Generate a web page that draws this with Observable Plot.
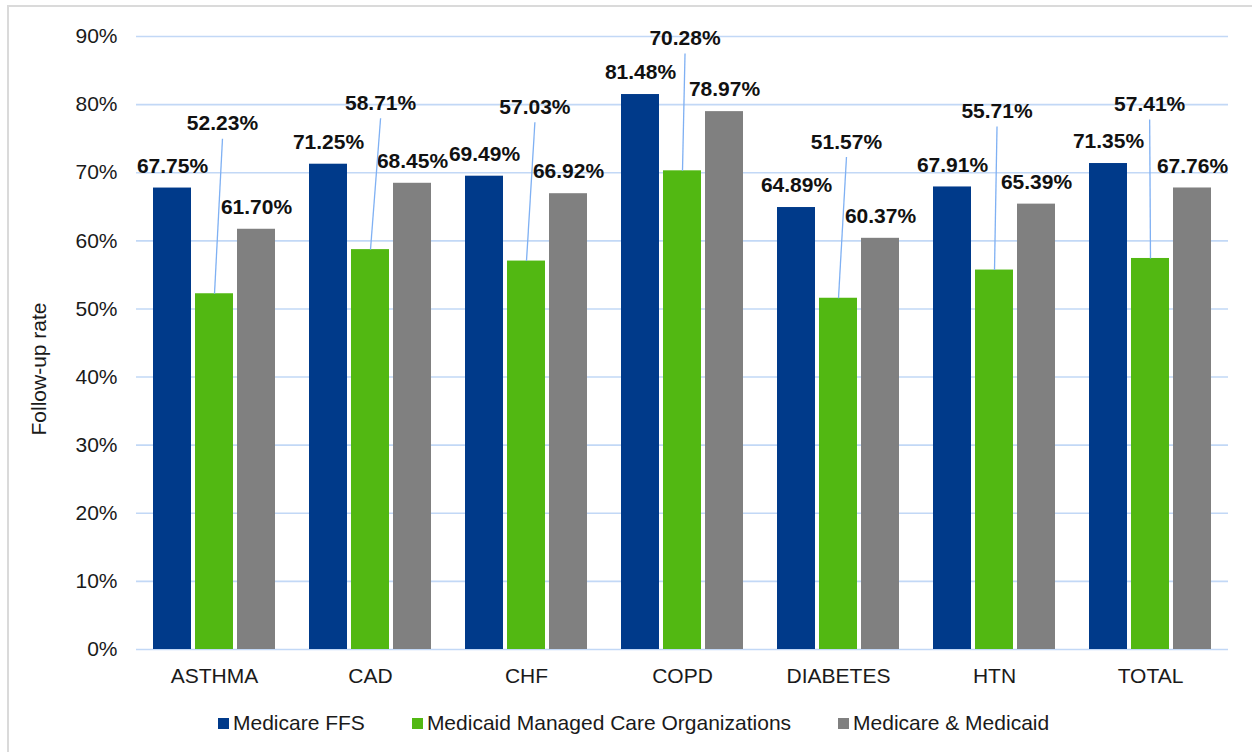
<!DOCTYPE html>
<html>
<head>
<meta charset="utf-8">
<script src="https://cdn.jsdelivr.net/npm/d3@7"></script>
<script src="https://cdn.jsdelivr.net/npm/@observablehq/plot@0.6"></script>
<style>
  html, body { margin: 0; padding: 0; background: #fff; }
  #page { position: relative; width: 1252px; height: 752px; overflow: hidden; font-family: "Liberation Sans", Arial, sans-serif; }
  #frame { position: absolute; left: 7px; top: 5px; right: 0; bottom: 0; border-top: 2px solid #dadada; border-left: 2px solid #dadada; }
  #chart { position: absolute; left: 0; top: 0; }
  #legend { position: absolute; left: 218px; top: 708px; height: 30px; line-height: 30px; display: flex; align-items: center; font-size: 21px; color: #1a1a1a; white-space: nowrap; }
  #legend .item { display: flex; align-items: center; margin-right: 47px; }
  #legend .sw { width: 11px; height: 11px; margin-right: 4px; }
</style>
</head>
<body>
<div id="page">
  <div id="frame"></div>
  <div id="chart"></div>
  <div id="legend"></div>
</div>
<script>
// Conditions (x groups) and payer series
const groups = ["ASTHMA", "CAD", "CHF", "COPD", "DIABETES", "HTN", "TOTAL"];
const series = ["Medicare FFS", "Medicaid Managed Care Organizations", "Medicare & Medicaid"];

// Follow-up rates, in percent
const medicareFFS      = [67.75, 71.25, 69.49, 81.48, 64.89, 67.91, 71.35];
const medicaidMCO      = [52.23, 58.71, 57.03, 70.28, 51.57, 55.71, 57.41];
const medicareMedicaid = [61.70, 68.45, 66.92, 78.97, 60.37, 65.39, 67.76];

// Y axis ticks, in percent
const yTicks = [0, 10, 20, 30, 40, 50, 60, 70, 80, 90];

const colors = ["#003a8a", "#52b812", "#808080"];

// Callout placement for the Medicaid MCO labels: level (in percent) where the
// leader line starts, and horizontal shift (in bar slots) of the label
const calloutLevel = [75.0, 78.0, 77.4, 87.5, 72.3, 76.8, 77.8];
const calloutShift = [0.19, 0.24, 0.20, 0.06, 0.19, 0.06, -0.02];

const seriesValues = [medicareFFS, medicaidMCO, medicareMedicaid];
const rows = groups.flatMap((g, i) =>
  seriesValues.map((vals, k) => ({group: g, series: series[k], slot: k, value: vals[i]}))
);
const plainLabels = rows.filter(d => d.slot !== 1);
const callouts = groups.map((g, i) => ({
  group: g,
  value: medicaidMCO[i],
  level: calloutLevel[i],
  shift: calloutShift[i]
}));
const fmt = v => v.toFixed(2) + "%";

const chart = Plot.plot({
  width: 1252,
  height: 700,
  marginTop: 36,
  marginBottom: 51,
  marginLeft: 136,
  marginRight: 24,
  style: {
    fontFamily: "'Liberation Sans', Arial, sans-serif",
    fontSize: "21px",
    color: "#1a1a1a",
    background: "transparent",
    overflow: "visible"
  },
  fx: {domain: groups, padding: 0, axis: "bottom", tickSize: 0, tickPadding: 19, label: null},
  x: {type: "linear", domain: [0, 3], inset: 15, axis: null},
  y: {domain: [0, 90], ticks: yTicks, tickFormat: d => d + "%", tickSize: 0, tickPadding: 19, label: null},
  color: {domain: series, range: colors},
  marks: [
    Plot.ruleY(yTicks, {y: d => d, stroke: "#c2d8f6", strokeWidth: 1.6}),
    Plot.rect(rows, {
      fx: "group",
      x1: d => d.slot,
      x2: d => d.slot + 1,
      y1: 0,
      y2: "value",
      fill: "series",
      insetLeft: 2,
      insetRight: 2
    }),
    Plot.text(plainLabels, {
      fx: "group",
      x: d => d.slot + 0.5,
      y: "value",
      text: d => fmt(d.value),
      dy: -22,
      fontWeight: "bold",
      fontSize: 21,
      fill: "#111"
    }),
    Plot.link(callouts, {
      fx: "group",
      x1: d => 1.5 + d.shift,
      y1: "level",
      x2: 1.5,
      y2: "value",
      stroke: "#7fb0f3",
      strokeWidth: 1.3
    }),
    Plot.text(callouts, {
      fx: "group",
      x: d => 1.5 + d.shift,
      y: "level",
      text: d => fmt(d.value),
      dy: -15,
      fontWeight: "bold",
      fontSize: 21,
      fill: "#111"
    })
  ]
});

// Y axis title
d3.select(chart).append("text")
  .attr("transform", "translate(39,369) rotate(-90)")
  .attr("text-anchor", "middle")
  .attr("dy", "0.35em")
  .attr("fill", "#1a1a1a")
  .style("font-size", "21px")
  .text("Follow-up rate");

document.getElementById("chart").appendChild(chart);

// Legend below the chart
const legend = d3.select("#legend");
series.forEach((s, k) => {
  const item = legend.append("div").attr("class", "item");
  item.append("div").attr("class", "sw").style("background", colors[k]);
  item.append("span").text(s);
});
</script>
</body>
</html>
